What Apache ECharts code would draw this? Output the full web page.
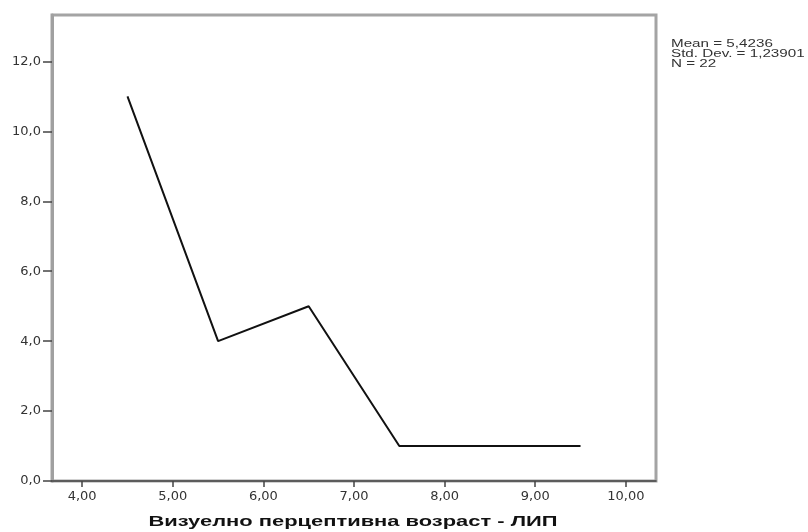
<!DOCTYPE html>
<html>
<head>
<meta charset="utf-8">
<script src="https://cdn.jsdelivr.net/npm/echarts@6/dist/echarts.min.js"></script>
<style>
  html, body { margin: 0; padding: 0; background: #fff; }
  #chart { width: 808px; height: 532px; }
</style>
</head>
<body>
<div id="chart"></div>
<script>
// Frequency polygon: class midpoints and their counts
const midpoints = [4.5, 5.5, 6.5, 7.5, 8.5, 9.5];
const counts = [11, 4, 5, 1, 1, 1];

const xTicks = [4, 5, 6, 7, 8, 9, 10];
const yTicks = [0, 2, 4, 6, 8, 10, 12];

const statsLines = ['Mean = 5,4236', 'Std. Dev. = 1,23901', 'N = 22'];
const xTitle = 'Визуелно перцептивна возраст - ЛИП';

const fmtX = v => v.toFixed(2).replace('.', ',');
const fmtY = v => v.toFixed(1).replace('.', ',');

const chart = echarts.init(document.getElementById('chart'), null, { renderer: 'canvas' });

// Wide, stretched lettering for the axis title and the summary block
const statsGraphics = statsLines.map((line, i) => ({
  type: 'text',
  x: 671,
  y: 44 + i * 10,
  scaleX: 1.52,
  style: {
    text: line,
    fill: '#333',
    font: '10px "Liberation Sans", Arial, sans-serif',
    textAlign: 'left',
    textVerticalAlign: 'middle'
  }
}));

chart.setOption({
  animation: false,
  backgroundColor: '#ffffff',
  textStyle: { fontFamily: 'DejaVu Sans, Liberation Sans, sans-serif' },
  graphic: [
    {
      type: 'text',
      x: 353,
      y: 522,
      scaleX: 1.46,
      style: {
        text: xTitle,
        fill: '#111',
        font: 'bold 15px "Liberation Sans", Arial, sans-serif',
        textAlign: 'center',
        textVerticalAlign: 'middle'
      }
    }
  ].concat(statsGraphics),
  grid: {
    left: 52,
    top: 15,
    right: 152,
    bottom: 51,
    show: true,
    borderColor: '#a4a4a4',
    borderWidth: 3,
    backgroundColor: '#ffffff'
  },
  xAxis: {
    type: 'value',
    min: 3.667,
    max: 10.333,
    axisLine: { show: true, lineStyle: { color: '#444', width: 1.5 } },
    axisTick: {
      show: true,
      length: 6,
      customValues: xTicks,
      lineStyle: { color: '#444', width: 1.5 }
    },
    axisLabel: {
      customValues: xTicks,
      formatter: fmtX,
      margin: 9,
      fontSize: 13,
      color: '#333',
      fontFamily: 'DejaVu Sans'
    },
    splitLine: { show: false }
  },
  yAxis: {
    type: 'value',
    min: 0,
    max: 13.33,
    axisLine: { show: true, lineStyle: { color: '#a0a0a0', width: 3 } },
    axisTick: {
      show: true,
      length: 9,
      customValues: yTicks,
      lineStyle: { color: '#444', width: 1.5 }
    },
    axisLabel: {
      customValues: yTicks,
      formatter: fmtY,
      margin: 11,
      fontSize: 13,
      color: '#333',
      fontFamily: 'DejaVu Sans'
    },
    splitLine: { show: false }
  },
  series: [{
    type: 'line',
    data: midpoints.map((m, i) => [m, counts[i]]),
    symbol: 'none',
    lineStyle: { color: '#111', width: 2 }
  }]
});
</script>
</body>
</html>
